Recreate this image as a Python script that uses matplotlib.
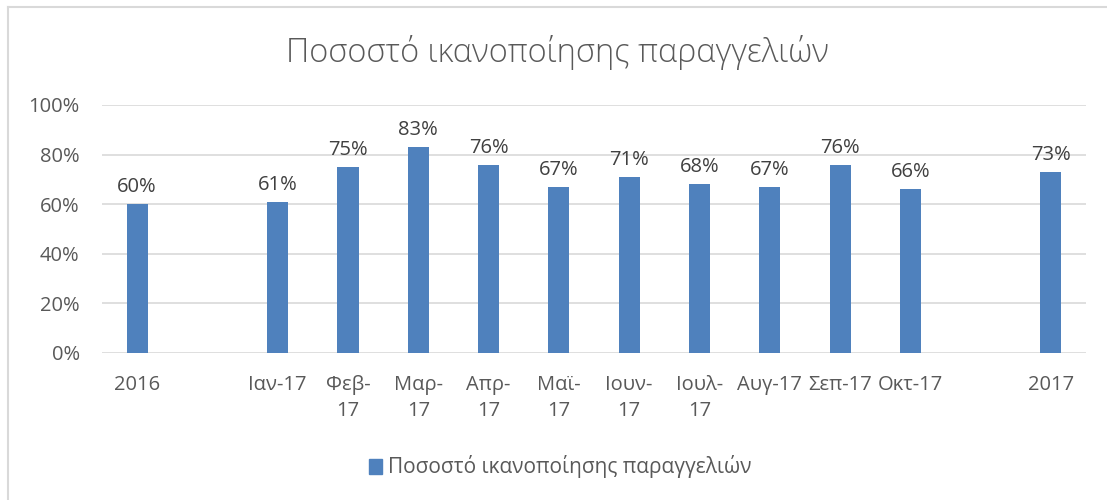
import matplotlib.pyplot as plt
from matplotlib.lines import Line2D
from matplotlib.patches import Patch

plt.rcParams['font.family'] = ['Open Sans', 'Noto Sans', 'DejaVu Sans']

# Categories (empty slots keep the gaps around the monthly block)
labels = ['2016', '', 'Ιαν-17', 'Φεβ-\n17', 'Μαρ-\n17', 'Απρ-\n17', 'Μαϊ-\n17',
          'Ιουν-\n17', 'Ιουλ-\n17', 'Αυγ-17', 'Σεπ-17', 'Οκτ-17', '', '2017']
values = [60, None, 61, 75, 83, 76, 67, 71, 68, 67, 76, 66, None, 73]

title = 'Ποσοστό ικανοποίησης παραγγελιών'
bar_color = '#4F81BD'
text_color = '#595959'
grid_color = '#D9D9D9'

fig = plt.figure(figsize=(11.07, 5), dpi=100)
ax = fig.add_axes([0.0921, 0.294, 0.889, 0.496])

xs = [i for i, v in enumerate(values) if v is not None]
ys = [v for v in values if v is not None]
ax.bar(xs, ys, width=0.3, color=bar_color, zorder=3)
for x, y in zip(xs, ys):
    ax.annotate(f'{y}%', (x, y), xytext=(0, 5), textcoords='offset points',
                ha='center', va='bottom', fontsize=14.5, color='#404040')

ax.set_xlim(-0.5, len(labels) - 0.5)
ax.set_ylim(0, 100)
ax.set_yticks(range(0, 101, 20))
ax.set_yticklabels([f'{t}%' for t in range(0, 101, 20)])
ax.set_xticks(range(len(labels)))
ax.set_xticklabels(labels, linespacing=1.4)
ax.tick_params(axis='both', length=0, labelsize=14.5, labelcolor=text_color)
ax.tick_params(axis='x', pad=16)
ax.tick_params(axis='y', pad=16)
ax.grid(axis='y', color=grid_color, linewidth=1.2, zorder=0)
for s in ax.spines.values():
    s.set_visible(False)

fig.text(0.504, 0.894, title, ha='center', va='center', fontsize=23.5,
         fontweight='light', color=text_color)

fig.legend(handles=[Patch(color=bar_color, label=title)], loc='center',
           bbox_to_anchor=(0.506, 0.066), frameon=False, fontsize=15,
           labelcolor=text_color, handlelength=0.6, handleheight=0.75,
           handletextpad=0.3)

# outer chart frame (left and top edges)
fig.add_artist(Line2D([0.0072, 0.0072], [0, 0.986], color='#D9D9D9', linewidth=1.5))
fig.add_artist(Line2D([0.0072, 1], [0.986, 0.986], color='#D9D9D9', linewidth=1.5))

fig.savefig('out.png', dpi=100, facecolor='white')
